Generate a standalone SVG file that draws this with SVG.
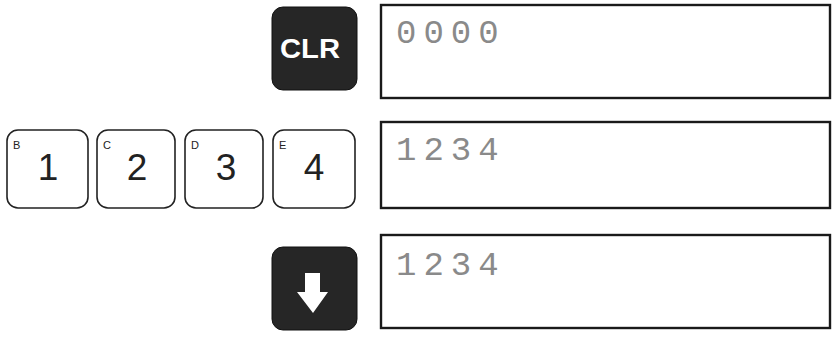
<svg xmlns="http://www.w3.org/2000/svg" width="835" height="338" viewBox="0 0 835 338">
<style>
.dark{fill:#262626;stroke:#111;stroke-width:1}
.key{fill:#fff;stroke:#222;stroke-width:1.6}
.disp{fill:#fff;stroke:#1a1a1a;stroke-width:2.4}
.dt{font-family:"Liberation Mono",monospace;font-size:34px;fill:#8a8a8a;letter-spacing:7px}
.kd{font-family:"Liberation Sans",Arial,sans-serif;font-size:37px;fill:#222;text-anchor:middle}
.kl{font-family:"Liberation Sans",Arial,sans-serif;font-size:11px;fill:#222}
.clr{font-family:"Liberation Sans",Arial,sans-serif;font-size:27px;font-weight:bold;fill:#fff;text-anchor:middle}
</style>
<g id="key-clr">
<rect class="dark" x="272" y="7" width="85" height="83" rx="11"/>
<text class="clr" x="310" y="58" textLength="60" lengthAdjust="spacingAndGlyphs">CLR</text>
</g>
<g id="display-1">
<rect class="disp" x="381" y="5" width="449" height="93"/>
<text class="dt" x="396" y="43">0000</text>
</g>
<g id="key-1">
<rect class="key" x="7" y="130" width="81" height="78" rx="11"/>
<text class="kl" x="13" y="149">B</text>
<text class="kd" x="48" y="180">1</text>
</g>
<g id="key-2">
<rect class="key" x="97" y="130" width="78" height="78" rx="11"/>
<text class="kl" x="103" y="149">C</text>
<text class="kd" x="137" y="180">2</text>
</g>
<g id="key-3">
<rect class="key" x="185" y="130" width="78" height="78" rx="11"/>
<text class="kl" x="191" y="149">D</text>
<text class="kd" x="226" y="180">3</text>
</g>
<g id="key-4">
<rect class="key" x="273" y="130" width="82" height="78" rx="11"/>
<text class="kl" x="279" y="149">E</text>
<text class="kd" x="314" y="180">4</text>
</g>
<g id="display-2">
<rect class="disp" x="381" y="122" width="449" height="86"/>
<text class="dt" x="396" y="160">1234</text>
</g>
<g id="key-down">
<rect class="dark" x="272" y="247" width="85" height="83" rx="11"/>
<path d="M305 273 H320 V292 H328 L313 313 L297 292 H305 Z" fill="#fff"/>
</g>
<g id="display-3">
<rect class="disp" x="381" y="235" width="449" height="93"/>
<text class="dt" x="396" y="275">1234</text>
</g>
<g id="connectors"></g>
</svg>
